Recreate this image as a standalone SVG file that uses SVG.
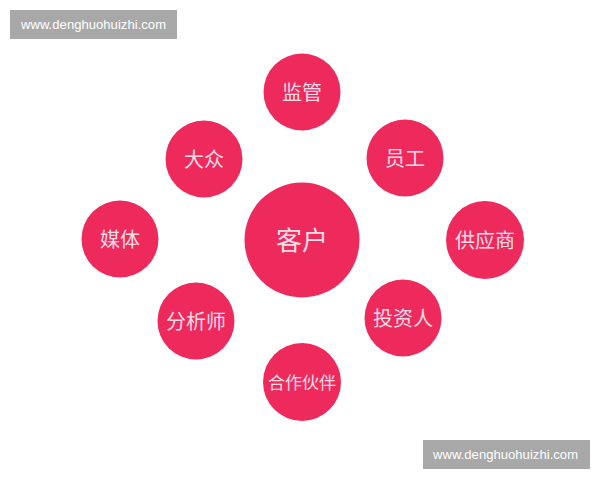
<svg xmlns="http://www.w3.org/2000/svg" width="600" height="480" viewBox="0 0 600 480">
<style>
.n{fill:#ee2a5c}
.t{fill:#fbdde8;font-family:"Noto Sans CJK SC","Noto Sans",sans-serif;font-size:20px;text-anchor:middle;dominant-baseline:central}
.wm{fill:#a8a8a8}
.wt{fill:#ffffff;font-family:"Liberation Sans",Arial,sans-serif;font-size:13px}
</style>
<rect width="600" height="480" fill="#ffffff"/>
<g id="watermark-top">
<rect class="wm" x="10" y="10" width="167" height="29"/>
<text class="wt" x="21" y="29" textLength="145">www.denghuohuizhi.com</text>
</g>
<g id="watermark-bottom">
<rect class="wm" x="423" y="440" width="167" height="29"/>
<text class="wt" x="433" y="459" textLength="145">www.denghuohuizhi.com</text>
</g>
<g id="connectors"></g>
<g id="kehu"><circle class="n" cx="302" cy="240" r="57.5"/><text class="t" x="302" y="238" style="font-size:26px">客户</text></g>
<g id="jianguan"><circle class="n" cx="302" cy="92" r="38.5"/><text class="t" x="302" y="91">监管</text></g>
<g id="yuangong"><circle class="n" cx="405" cy="158" r="38.5"/><text class="t" x="405" y="157">员工</text></g>
<g id="dazhong"><circle class="n" cx="204" cy="159" r="38.5"/><text class="t" x="204" y="158">大众</text></g>
<g id="meiti"><circle class="n" cx="120" cy="239" r="38.5"/><text class="t" x="120" y="238">媒体</text></g>
<g id="gongyingshang"><circle class="n" cx="485" cy="240" r="39"/><text class="t" x="485" y="239">供应商</text></g>
<g id="fenxishi"><circle class="n" cx="196" cy="321" r="38.5"/><text class="t" x="196" y="320">分析师</text></g>
<g id="touziren"><circle class="n" cx="403" cy="318" r="38.5"/><text class="t" x="403" y="317">投资人</text></g>
<g id="hezuohuoban"><circle class="n" cx="302" cy="382" r="39"/><text class="t" x="302" y="381" style="font-size:17px">合作伙伴</text></g>
</svg>
